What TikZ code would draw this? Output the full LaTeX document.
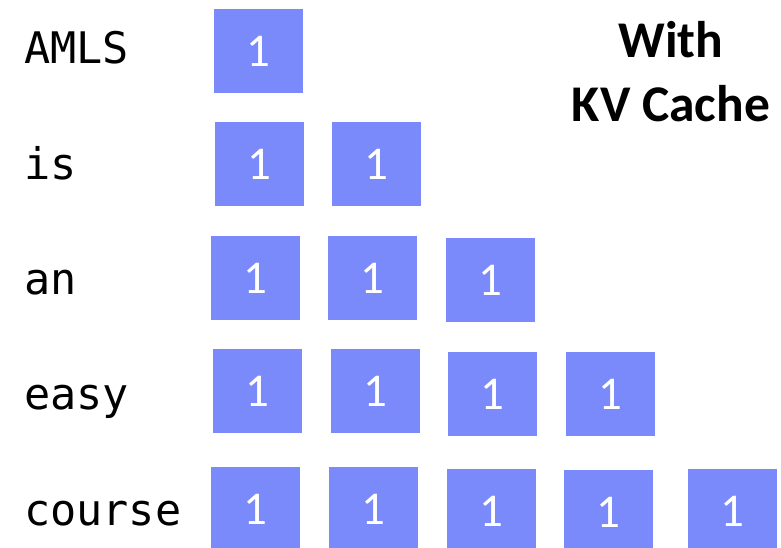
\documentclass[tikz,border=0pt]{standalone}
\usepackage{fontspec}
\setmainfont{Carlito}
\newfontfamily\labelfont{DejaVu Sans Mono}
\definecolor{boxblue}{RGB}{122,138,250}
\tikzset{
  cell/.style={rectangle, fill=boxblue, minimum width=89pt, minimum height=84pt, inner sep=0pt, text=white, font=\fontsize{47}{47}\selectfont},
  word/.style={anchor=base west, inner sep=0pt, font=\labelfont\fontsize{43.5}{43.5}\selectfont},
  title/.style={align=center, font=\bfseries\fontsize{51.5}{64}\selectfont, inner sep=0pt}
}
\begin{document}
\begin{tikzpicture}[x=1pt,y=-1pt]
\useasboundingbox (0,0) rectangle (781,548);
\clip (0,0) rectangle (781,548);
% labels
\node[word] (w1) at (24,64) {AMLS};
\node[word] (w2) at (24,179) {is};
\node[word] (w3) at (24,294) {an};
\node[word] (w4) at (24,409) {easy};
\node[word] (w5) at (24,525) {course};
% title
\node[title] (t) at (671,72) {With\\KV Cache};
% row 1
\node[cell] (c11) at (258,51) {1};
% row 2
\node[cell] (c21) at (259.5,164) {1};
\node[cell] (c22) at (376,164) {1};
% row 3
\node[cell] (c31) at (255.5,278) {1};
\node[cell] (c32) at (372.5,278) {1};
\node[cell] (c33) at (490.5,280) {1};
% row 4
\node[cell] (c41) at (257.5,391) {1};
\node[cell] (c42) at (375.5,391) {1};
\node[cell] (c43) at (492.5,394) {1};
\node[cell] (c44) at (610.5,394) {1};
% row 5
\node[cell] (c51) at (255.5,509) {1};
\node[cell] (c52) at (373.5,509) {1};
\node[cell] (c53) at (491.5,511) {1};
\node[cell] (c54) at (608.5,512) {1};
\node[cell] (c55) at (732.5,511) {1};
\end{tikzpicture}
\end{document}
